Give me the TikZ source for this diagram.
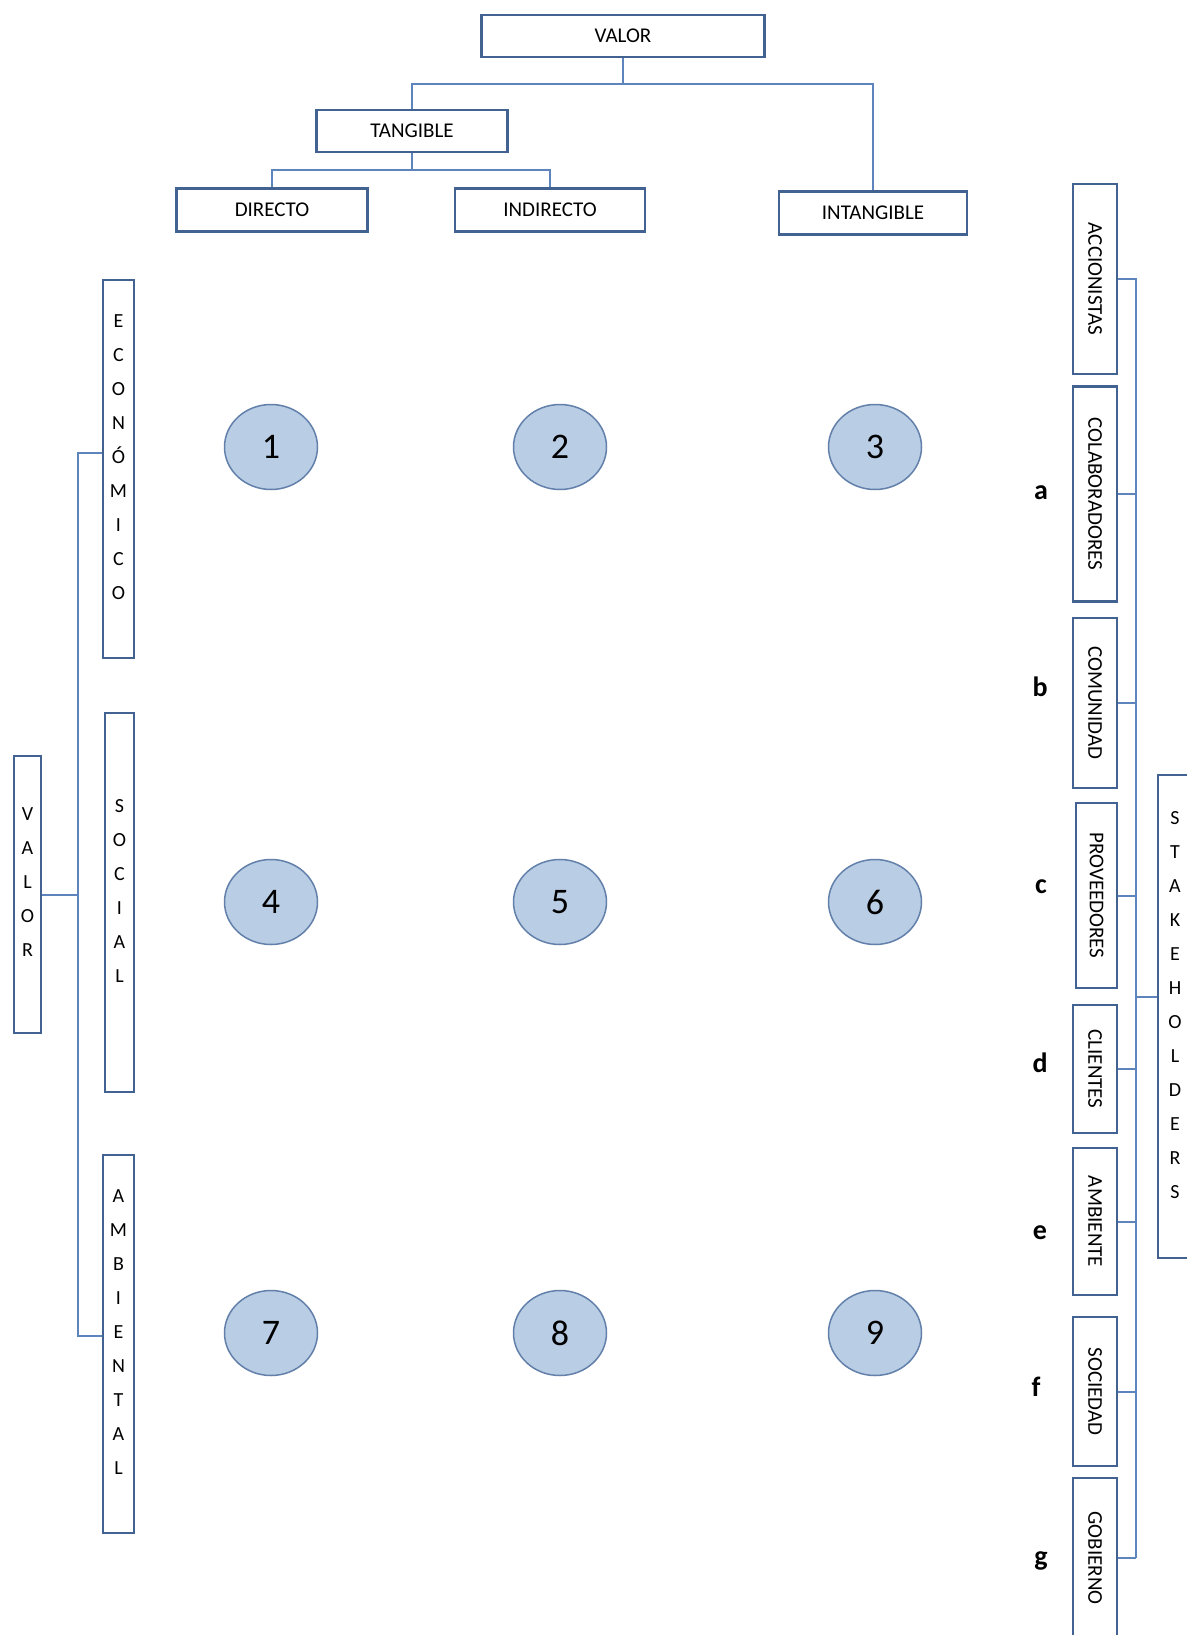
\documentclass[tikz,border=0pt]{standalone}
\usepackage{fontspec}
\setmainfont{Carlito}
\usetikzlibrary{shapes.geometric, calc}
\definecolor{borde}{RGB}{66,98,146}
\definecolor{enlace}{RGB}{94,132,190}
\definecolor{relleno}{RGB}{185,205,229}
\definecolor{bordecirc}{RGB}{98,128,170}

\begin{document}
\begin{tikzpicture}[
    x=1pt, y=-1pt,
    box/.style={rectangle, draw=borde, line width=2.2pt, inner sep=0pt,
                font=\fontsize{21}{25}\selectfont},
    pila/.style={box, align=center, text depth=24pt, font=\fontsize{20}{34}\selectfont},
    rbox/.style={box, minimum width=44pt},
    num/.style={ellipse, draw=bordecirc, line width=1.5pt, fill=relleno,
                minimum width=93pt, minimum height=85pt, font=\fontsize{36}{40}\selectfont},
    link/.style={enlace, line width=2pt},
    tag/.style={font=\fontsize{28}{32}\selectfont\bfseries}
]
\useasboundingbox (0,0) rectangle (1186,1635);

% arbol superior
\node[box, minimum width=283pt, minimum height=42pt] (valor) at (623,36) {VALOR};
\node[box, minimum width=191pt, minimum height=42pt] (tangible) at (412,131) {TANGIBLE};
\node[box, minimum width=191pt, minimum height=43pt] (directo) at (272,210) {DIRECTO};
\node[box, minimum width=190pt, minimum height=43pt] (indirecto) at (550,210) {INDIRECTO};
\node[box, minimum width=188pt, minimum height=43pt] (intangible) at (873,213) {INTANGIBLE};

\draw[link] (valor.south) -- ++(0,26) coordinate (vfork) -| (tangible.north);
\draw[link] (vfork) -| (intangible.north);
\draw[link] (tangible.south) -- ++(0,17) coordinate (tfork) -| (directo.north);
\draw[link] (tfork) -| (indirecto.north);

% matriz
\foreach \i/\x/\y in {1/271/447, 2/560/447, 3/875/447,
                      4/271/902, 5/560/902, 6/875/902,
                      7/271/1333, 8/560/1333, 9/875/1333}
    \node[num] (n\i) at (\x,\y) {\i};

% columna izquierda
\node[pila, minimum width=31pt, minimum height=378pt] (economico) at (118.5,469) {E\\C\\O\\N\\Ó\\M\\I\\C\\O};
\node[pila, minimum width=29pt, minimum height=379pt] (social) at (119.5,902.5) {S\\O\\C\\I\\A\\L};
\node[pila, minimum width=31pt, minimum height=378pt] (ambiental) at (118.5,1344) {A\\M\\B\\I\\E\\N\\T\\A\\L};
\node[pila, minimum width=27pt, minimum height=277pt] (valorizq) at (27.5,894.5) {V\\A\\L\\O\\R};

\coordinate (lspine) at (78,894.5);
\draw[link] (valorizq.east) -- (lspine);
\draw[link] ([yshift=16pt]economico.west) -| (lspine) |- ([yshift=8pt]ambiental.west);

% columna derecha
\node[rbox, minimum height=190pt] (accionistas) at (1095,279) {\rotatebox{-90}{ACCIONISTAS}};
\node[rbox, minimum height=215pt] (colaboradores) at (1095,494) {\rotatebox{-90}{COLABORADORES}};
\node[rbox, minimum height=170pt] (comunidad) at (1095,703) {\rotatebox{-90}{COMUNIDAD}};
\node[rbox, minimum height=185pt, minimum width=41pt] (proveedores) at (1096.5,895.5) {\rotatebox{-90}{PROVEEDORES}};
\node[rbox, minimum height=128pt] (clientes) at (1095,1069) {\rotatebox{-90}{CLIENTES}};
\node[rbox, minimum height=147pt] (ambiente) at (1095,1221.5) {\rotatebox{-90}{AMBIENTE}};
\node[rbox, minimum height=149pt] (sociedad) at (1095,1391.5) {\rotatebox{-90}{SOCIEDAD}};
\node[rbox, minimum height=160pt] (gobierno) at (1095,1558) {\rotatebox{-90}{GOBIERNO}};
\node[pila, minimum width=34pt, minimum height=483pt] (stake) at (1175,1016.5) {S\\T\\A\\K\\E\\H\\O\\L\\D\\E\\R\\S};

\node[tag] (ta) at (1041,493) {a};
\node[tag] (tb) at (1040,687) {b};
\node[tag] (tc) at (1041,887) {c};
\node[tag] (td) at (1040,1063) {d};
\node[tag] (te) at (1040,1233) {e};
\node[tag] (tf) at (1036,1387) {f};
\node[tag] (tg) at (1041,1561) {g};

\coordinate (rspine) at (1136,494);
\draw[link] (accionistas.east) -| (rspine) -- (colaboradores.east);
\draw[link] (rspine) -- (rspine |- gobierno.east);
\foreach \n in {comunidad,proveedores,clientes,ambiente,sociedad,gobierno}
    \draw[link] (\n.east) -- (\n.east -| rspine);
\draw[link] ([yshift=19.5pt]stake.west) -- ([yshift=19.5pt]stake.west -| rspine);
\end{tikzpicture}
\end{document}
